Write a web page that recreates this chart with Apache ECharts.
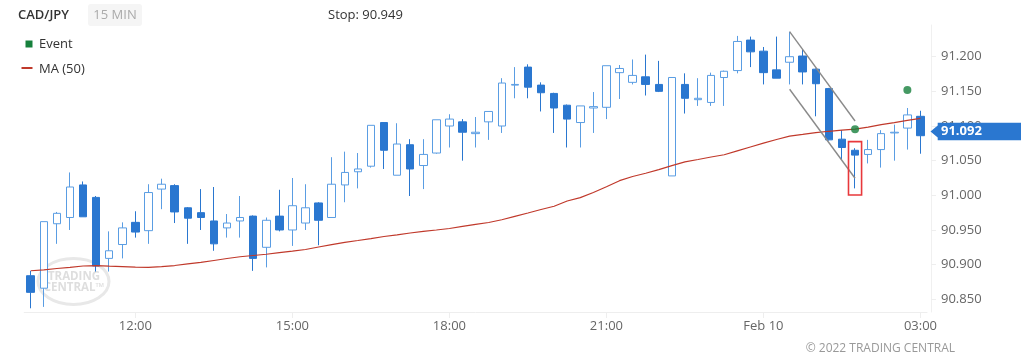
<!DOCTYPE html>
<html><head><meta charset="utf-8">
<script src="https://cdn.jsdelivr.net/npm/echarts@6/dist/echarts.min.js"></script>
<style>html,body{margin:0;padding:0;background:#fff}#c{width:1021px;height:363px}</style>
</head><body><div id="c"></div>
<script>
const categories = ['10:00','10:15','10:30','10:45','11:00','11:15','11:30','11:45','12:00','12:15','12:30','12:45','13:00','13:15','13:30','13:45','14:00','14:15','14:30','14:45','15:00','15:15','15:30','15:45','16:00','16:15','16:30','16:45','17:00','17:15','17:30','17:45','18:00','18:15','18:30','18:45','19:00','19:15','19:30','19:45','20:00','20:15','20:30','20:45','21:00','21:15','21:30','21:45','22:00','22:15','22:30','22:45','23:00','23:15','23:30','23:45','00:00','00:15','00:30','00:45','01:00','01:15','01:30','01:45','02:00','02:15','02:30','02:45','03:00'];
const tickLabels = {'12:00':'12:00','15:00':'15:00','18:00':'18:00','21:00':'21:00','00:00':'Feb 10','03:00':'03:00'};
const yTicks = [90.85, 90.90, 90.95, 91.00, 91.05, 91.10, 91.15, 91.20];

const opens  = [90.884,90.866,90.959,90.968,91.015,90.997,90.909,90.929,90.961,90.949,91.009,91.014,90.982,90.975,90.963,90.953,90.963,90.970,90.925,90.970,90.950,90.960,90.989,90.968,91.015,91.034,91.042,91.105,91.029,91.073,91.043,91.061,91.100,91.106,91.089,91.106,91.100,91.159,91.185,91.159,91.147,91.130,91.105,91.126,91.127,91.177,91.163,91.171,91.160,91.028,91.160,91.138,91.134,91.170,91.180,91.224,91.208,91.181,91.192,91.201,91.182,91.154,91.081,91.065,91.059,91.066,91.090,91.097,91.114];
const closes = [90.860,90.962,90.974,91.012,90.969,90.898,90.920,90.953,90.947,91.004,91.016,90.976,90.967,90.968,90.930,90.960,90.968,90.909,90.964,90.950,90.985,90.982,90.964,91.016,91.033,91.038,91.101,91.065,91.074,91.038,91.059,91.109,91.110,91.091,91.091,91.121,91.162,91.160,91.156,91.148,91.126,91.110,91.129,91.128,91.187,91.183,91.173,91.160,91.150,91.170,91.140,91.140,91.173,91.179,91.222,91.207,91.177,91.169,91.200,91.178,91.161,91.080,91.069,91.058,91.066,91.089,91.091,91.116,91.086];
const lows   = [90.837,90.839,90.930,90.950,90.969,90.890,90.890,90.909,90.939,90.930,90.980,90.960,90.930,90.950,90.920,90.939,90.939,90.891,90.896,90.948,90.927,90.950,90.928,90.968,90.990,91.010,91.040,91.038,91.029,90.999,91.009,91.060,91.069,91.050,91.069,91.080,91.090,91.140,91.140,91.121,91.090,91.069,91.069,91.090,91.110,91.139,91.160,91.144,91.149,91.028,91.118,91.129,91.129,91.129,91.176,91.185,91.160,91.169,91.160,91.160,91.114,91.079,91.052,91.010,91.046,91.040,91.050,91.066,91.060];
const highs  = [90.891,90.962,90.976,91.033,91.020,90.999,90.948,90.961,90.977,91.016,91.024,91.016,90.983,91.009,91.012,90.973,90.999,90.971,90.968,91.008,91.025,91.016,90.990,91.055,91.063,91.061,91.101,91.105,91.104,91.081,91.081,91.109,91.117,91.110,91.113,91.121,91.169,91.185,91.189,91.163,91.148,91.131,91.129,91.149,91.187,91.188,91.196,91.203,91.194,91.170,91.176,91.169,91.177,91.180,91.230,91.229,91.214,91.229,91.236,91.211,91.183,91.155,91.094,91.068,91.080,91.094,91.102,91.126,91.122];
const ma50   = [90.8912,90.8925,90.8944,90.8961,90.8980,90.8985,90.8977,90.8972,90.8963,90.8961,90.8972,90.8987,90.9012,90.9032,90.9060,90.9088,90.9114,90.9132,90.9150,90.9174,90.9194,90.9218,90.9254,90.9289,90.9321,90.9348,90.9376,90.9406,90.9430,90.9456,90.9481,90.9500,90.9521,90.9553,90.9582,90.9608,90.9647,90.9696,90.9745,90.9795,90.9842,90.9918,90.9967,91.0041,91.0123,91.0211,91.0272,91.0319,91.0371,91.0429,91.0482,91.0517,91.0553,91.0585,91.0642,91.0697,91.0752,91.0805,91.0854,91.0879,91.0905,91.0924,91.0940,91.0955,91.0984,91.1019,91.1049,91.1081,91.1111];
const eventIdx = [63, 67];
const eventVal = [91.0953, 91.152];
const channelUpper = [[58, 91.2361], [63, 91.1072]];
const channelLower = [[58, 91.1530], [63, 91.0246]];
const patternBox = [[63, 91.0005, 91.0774]];
const lastPrice = 91.092;
const stopLevel = '90.949';

const candleData = opens.map((o, i) => [o, closes[i], lows[i], highs[i]]);
const eventData = eventIdx.map((x, i) => [x, eventVal[i]]);

const FONT = '"Open Sans", "Noto Sans", sans-serif';
const chart = echarts.init(document.getElementById('c'), null, {renderer: 'canvas'});
const option = {
  animation: false,
  backgroundColor: '#fff',
  textStyle: {fontFamily: FONT},
  grid: {left: 24.2, right: 94, top: 25, bottom: 51},
  xAxis: {
    type: 'category', data: categories, boundaryGap: true,
    axisLine: {show: true, lineStyle: {color: '#eeeeee', width: 1}},
    axisTick: {show: true, alignWithLabel: true, length: 6, lineStyle: {color: '#eeeeee'},
      interval: (i, v) => tickLabels[v] !== undefined},
    axisLabel: {interval: (i, v) => tickLabels[v] !== undefined, formatter: v => tickLabels[v] || '',
      color: '#666', fontSize: 13, fontFamily: FONT, margin: 8},
    splitLine: {show: false}
  },
  yAxis: {
    type: 'value', position: 'right', scale: true, offset: 4,
    min: 90.83165, max: 91.24574,
    axisLine: {show: true, lineStyle: {color: '#f0f0f0'}},
    axisTick: {show: true, length: 5, lineStyle: {color: '#eeeeee'}, customValues: yTicks},
    axisLabel: {customValues: yTicks, formatter: v => v.toFixed(3), color: '#666', fontSize: 13, fontFamily: FONT, margin: 10},
    splitLine: {show: false}
  },
  series: [
    {
      type: 'candlestick', name: 'CAD/JPY', data: candleData, barWidth: 8, z: 3,
      itemStyle: {color: '#ffffff', color0: '#2a77d0', borderColor: '#5a9de3', borderColor0: '#2a77d0', borderWidth: 1},
      emphasis: {disabled: true}
    },
    {
      type: 'line', name: 'MA (50)', data: ma50, symbol: 'none', z: 4,
      lineStyle: {color: '#c0392b', width: 1.2}, emphasis: {disabled: true}
    },
    {
      type: 'line', name: 'channelU', data: channelUpper, symbol: 'none', z: 5,
      lineStyle: {color: '#8a8a8a', width: 1.4}, emphasis: {disabled: true}
    },
    {
      type: 'line', name: 'channelL', data: channelLower, symbol: 'none', z: 5,
      lineStyle: {color: '#8a8a8a', width: 1.4}, emphasis: {disabled: true}
    },
    {
      type: 'custom', name: 'box', data: patternBox, z: 6,
      renderItem: (params, api) => {
        const x = api.value(0);
        const pTop = api.coord([x, api.value(2)]);
        const pBot = api.coord([x, api.value(1)]);
        const w = api.size([1, 0])[0];
        return {type: 'rect', shape: {x: pTop[0] - w / 2, y: pTop[1], width: w, height: pBot[1] - pTop[1]},
          style: {fill: 'none', stroke: '#e8383b', lineWidth: 1.6}};
      }
    },
    {
      type: 'scatter', name: 'Event', data: eventData, symbol: 'circle', symbolSize: 8, z: 7,
      itemStyle: {color: '#16803c'}, emphasis: {disabled: true}
    }
  ],
  graphic: [
    {type: 'ellipse', z: 0, shape: {cx: 73.5, cy: 281.5, rx: 35.5, ry: 23}, style: {fill: 'none', stroke: '#e8e8e8', lineWidth: 3}},
    {type: 'text', z: 0, x: 74, y: 277, style: {text: 'TRADING', font: 'bold 11.5px ' + FONT, fill: '#dedede', align: 'center', verticalAlign: 'middle'}},
    {type: 'text', z: 0, x: 74, y: 288, style: {text: 'CENTRAL™', font: 'bold 11.5px ' + FONT, fill: '#dedede', align: 'center', verticalAlign: 'middle'}},
    {type: 'text', x: 18, y: 15, style: {text: 'CAD/JPY', font: '600 13px ' + FONT, fill: '#333', verticalAlign: 'middle'}},
    {type: 'rect', x: 88, y: 4, shape: {width: 54, height: 22, r: 3}, style: {fill: '#f5f5f5'}},
    {type: 'text', x: 115, y: 15, style: {text: '15 MIN', font: '13px ' + FONT, fill: '#aaaaaa', align: 'center', verticalAlign: 'middle'}},
    {type: 'text', x: 328, y: 15, style: {text: 'Stop: ' + stopLevel, font: '13px ' + FONT, fill: '#333', verticalAlign: 'middle'}},
    {type: 'rect', x: 25.5, y: 40.5, shape: {width: 7, height: 7}, style: {fill: '#16803c'}},
    {type: 'text', x: 39, y: 44.5, style: {text: 'Event', font: '13px ' + FONT, fill: '#333', verticalAlign: 'middle'}},
    {type: 'rect', x: 21.5, y: 67, shape: {width: 11, height: 2}, style: {fill: '#c0392b'}},
    {type: 'text', x: 39, y: 69, style: {text: 'MA (50)', font: '13px ' + FONT, fill: '#333', verticalAlign: 'middle'}},
    {type: 'text', x: 955, y: 349, style: {text: '© 2022 TRADING CENTRAL', font: '12px ' + FONT, fill: '#999', align: 'right', verticalAlign: 'middle'}}
  ]
};
chart.setOption(option);
const ty = chart.convertToPixel({yAxisIndex: 0}, lastPrice);
chart.setOption({graphic: option.graphic.concat([
  {type: 'polygon', z: 100, shape: {points: [[930.5, ty], [937.7, ty - 6], [937.7, ty - 8.7], [1021, ty - 8.7], [1021, ty + 8.7], [937.7, ty + 8.7], [937.7, ty + 6]]}, style: {fill: '#2a77d0'}},
  {type: 'text', z: 101, x: 941, y: ty, style: {text: lastPrice.toFixed(3), font: 'bold 13px ' + FONT, fill: '#fff', verticalAlign: 'middle'}}
])});
</script></body></html>
